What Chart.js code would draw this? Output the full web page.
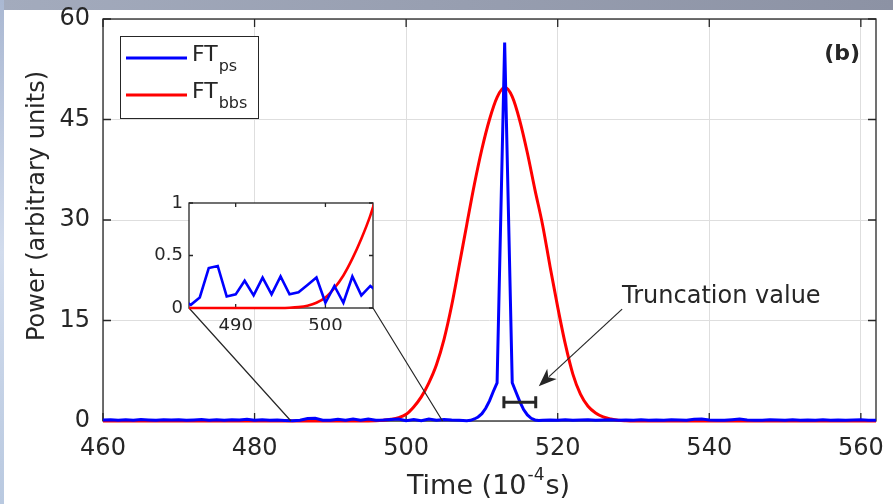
<!DOCTYPE html>
<html>
<head>
<meta charset="utf-8">
<script src="https://cdn.jsdelivr.net/npm/chart.js@4.4.1/dist/chart.umd.min.js"></script>
<style>
  html, body { margin: 0; padding: 0; background: #fff; }
  #wrap { position: relative; width: 893px; height: 504px; overflow: hidden; }
  #main { position: absolute; left: 0; top: 0; }
  #inset { position: absolute; left: 140px; top: 190px; }
</style>
</head>
<body>
<div id="wrap">
  <canvas id="main" width="893" height="504"></canvas>
  <canvas id="inset" width="240" height="140"></canvas>
</div>
<script>
// FT_ps (blue) - time in 10^-4 s, power in arbitrary units
const psTime = [460,461,462,463,464,465,466,467,468,469,470,471,472,473,474,475,476,477,478,479,
  480,481,482,483,484,485,486,487,488,489,490,491,492,493,494,495,496,497,498,499,
  500,501,502,503,504,505,506,507,508,508.5,509,509.5,510,510.5,511,511.5,512,513,
  514,514.5,515,515.5,516,516.5,517,517.5,
  518,519,520,521,522,523,524,525,526,527,528,529,530,531,532,533,534,535,536,537,
  538,539,540,541,542,543,544,545,546,547,548,549,550,551,552,553,554,555,556,557,
  558,559,560,561,562];
const psPower = [0.15,0.2,0.12,0.18,0.1,0.22,0.15,0.1,0.2,0.14,0.18,0.1,0.16,0.22,0.12,0.18,0.1,0.2,0.15,0.25,
  0.12,0.18,0.1,0.15,0.08,0.03,0.1,0.38,0.4,0.11,0.13,0.26,0.12,0.29,0.13,0.3,0.13,0.15,0.22,0.29,
  0.05,0.21,0.05,0.3,0.12,0.21,0.14,0.1,0.05,0.1,0.3,0.6,1.1,1.9,3.0,4.4,5.7,56.5,
  5.7,4.3,2.9,1.7,0.9,0.4,0.15,0.08,
  0.1,0.15,0.12,0.2,0.1,0.15,0.18,0.1,0.14,0.2,0.12,0.16,0.1,0.18,0.12,0.15,0.1,0.2,0.14,0.1,
  0.25,0.3,0.15,0.1,0.12,0.2,0.28,0.15,0.12,0.1,0.18,0.14,0.1,0.2,0.12,0.15,0.1,0.18,0.12,0.16,
  0.1,0.14,0.2,0.12,0.1];

// FT_bbs (red)
const bbsTime = [460,480,494,495,496,497,498,499,500,501,502,503,504,505,506,507,508,509,510,
  511,512,513,514,515,516,517,518,519,520,521,522,523,524,525,526,527,528,529,530,545,562];
const bbsPower = [0,0,0,0,0.02,0.1,0.25,0.5,1.0,2.1,3.6,5.7,8.4,12.2,17.2,23.2,29.3,35.3,40.6,
  45,48.3,49.8,48.4,44.8,40,34.5,29.3,23,17,11.5,7,4,2.2,1.2,0.6,0.3,0.1,0.03,0,0,0];

// FT_bbs as drawn in the zoomed inset
const bbsZoomTime = [484,486,488,490,492,494,495,496,497,498,499,500,501,502,503,504,505,506];
const bbsZoomPower = [0,0,0,0,0,0,0,0.002,0.008,0.022,0.05,0.1,0.19,0.31,0.47,0.66,0.88,1.15];

// axis ticks
const xTicks = [460,480,500,520,540,560];
const yTicks = [0,15,30,45,60];
const insetXTicks = [490,500];
const insetYTicks = [0,0.5,1];

// annotations (data coordinates)
const zoomWindow = [484.8, 504.8];
const truncBar = { from: 512.9, to: 517.1, power: 2.8 };
const arrowTail = { time: 528.5, power: 16.7 };
const arrowTip = { time: 517.5, power: 5.2 };

const INK = '#262626';
const FONT = '"DejaVu Sans", sans-serif';
Chart.defaults.font.family = FONT;
Chart.defaults.color = INK;
Chart.defaults.animation = false;

const pts = (xs, ys) => xs.map((x, i) => ({ x: x, y: ys[i] }));

// fixed axis sizes so the plot box lands where the figure has it
const fixX = h => s => { s.height = h; s.paddingLeft = 0; s.paddingRight = 0; };
const fixY = w => s => { s.width = w; s.paddingTop = 0; s.paddingBottom = 0; };

function boxAndTicks(chart, len, width) {
  const ctx = chart.ctx;
  const { left, right, top, bottom } = chart.chartArea;
  const xs = chart.scales.x, ys = chart.scales.y;
  ctx.save();
  ctx.strokeStyle = INK;
  ctx.lineWidth = width;
  ctx.beginPath();
  xs.ticks.forEach(t => {
    const px = xs.getPixelForValue(t.value);
    ctx.moveTo(px, bottom); ctx.lineTo(px, bottom - len);
    ctx.moveTo(px, top); ctx.lineTo(px, top + len);
  });
  ys.ticks.forEach(t => {
    const py = ys.getPixelForValue(t.value);
    ctx.moveTo(left, py); ctx.lineTo(left + len, py);
    ctx.moveTo(right, py); ctx.lineTo(right - len, py);
  });
  ctx.stroke();
  ctx.strokeRect(left, top, right - left, bottom - top);
  ctx.restore();
}

// ---- inset chart ----
const insetChart = new Chart(document.getElementById('inset'), {
  type: 'line',
  data: {
    datasets: [
      { data: pts(psTime, psPower), borderColor: '#0000ff', borderWidth: 2.6, pointRadius: 0, clip: { left: 0, top: 0, right: 0, bottom: 4 } },
      { data: pts(bbsZoomTime, bbsZoomPower), borderColor: '#ff0000', borderWidth: 2.6, pointRadius: 0, cubicInterpolationMode: 'monotone', clip: { left: 0, top: 0, right: 0, bottom: 4 } }
    ]
  },
  options: {
    responsive: false,
    devicePixelRatio: 1,
    layout: { padding: { top: 13, right: 7, left: 0, bottom: 0 } },
    plugins: { legend: { display: false }, tooltip: { enabled: false } },
    scales: {
      x: {
        type: 'linear', min: 484.8, max: 505.3,
        afterFit: fixX(22),
        afterBuildTicks: s => { s.ticks = insetXTicks.map(v => ({ value: v })); },
        grid: { display: false, drawTicks: false },
        border: { display: false },
        ticks: { font: { size: 18 }, padding: 8, maxRotation: 0 }
      },
      y: {
        min: 0, max: 1,
        afterFit: fixY(49),
        afterBuildTicks: s => { s.ticks = insetYTicks.map(v => ({ value: v })); },
        grid: { display: false, drawTicks: false },
        border: { display: false },
        ticks: { font: { size: 18 }, padding: 6, callback: v => String(v) }
      }
    }
  },
  plugins: [{
    id: 'insetFrame',
    beforeDraw(chart) {
      const { left, right, top, bottom } = chart.chartArea;
      chart.ctx.fillStyle = '#ffffff';
      chart.ctx.fillRect(left, top, right - left, bottom - top);
    },
    beforeDatasetsDraw(chart) { boxAndTicks(chart, 4, 1.3); }
  }]
});

// ---- main chart ----
const mainCanvas = document.getElementById('main');
new Chart(mainCanvas, {
  type: 'line',
  data: {
    datasets: [
      { label: 'FT_ps', data: pts(psTime, psPower), borderColor: '#0000ff', borderWidth: 3, pointRadius: 0, clip: { left: 0, top: 4, right: 0, bottom: 4 } },
      { label: 'FT_bbs', data: pts(bbsTime, bbsPower), borderColor: '#ff0000', borderWidth: 3, pointRadius: 0, cubicInterpolationMode: 'monotone', clip: { left: 0, top: 4, right: 0, bottom: 4 } }
    ]
  },
  options: {
    responsive: false,
    devicePixelRatio: 1,
    layout: { padding: { top: 19, right: 17, left: 0, bottom: 0 } },
    plugins: { legend: { display: false }, tooltip: { enabled: false } },
    scales: {
      x: {
        type: 'linear', min: 460, max: 562,
        afterFit: fixX(83),
        afterBuildTicks: s => { s.ticks = xTicks.map(v => ({ value: v })); },
        grid: { color: '#dedede', lineWidth: 1, drawTicks: false },
        border: { display: false },
        ticks: { font: { size: 24 }, padding: 13, maxRotation: 0 }
      },
      y: {
        min: 0, max: 60,
        afterFit: fixY(103),
        afterBuildTicks: s => { s.ticks = yTicks.map(v => ({ value: v })); },
        grid: { color: '#dedede', lineWidth: 1, drawTicks: false },
        border: { display: false },
        ticks: { font: { size: 24 }, padding: 13 }
      }
    }
  },
  plugins: [{
    id: 'figure',
    beforeDraw(chart) {
      const ctx = chart.ctx;
      ctx.save();
      ctx.fillStyle = '#ffffff';
      ctx.fillRect(0, 0, chart.width, chart.height);
      // slide background peeking in at the top and left
      const g = ctx.createLinearGradient(0, 0, chart.width, 0);
      g.addColorStop(0, '#a3abbd');
      g.addColorStop(1, '#8c92a4');
      ctx.fillStyle = g;
      ctx.fillRect(0, 0, chart.width, 10);
      const g2 = ctx.createLinearGradient(0, 0, 0, chart.height);
      g2.addColorStop(0, '#aab8d2');
      g2.addColorStop(0.5, '#d2dced');
      g2.addColorStop(1, '#b9c9e0');
      ctx.fillStyle = g2;
      ctx.fillRect(0, 0, 4, chart.height);
      ctx.restore();
    },
    beforeDatasetsDraw(chart) { boxAndTicks(chart, 8, 1.3); },
    afterDraw(chart) {
      const ctx = chart.ctx;
      const xs = chart.scales.x, ys = chart.scales.y;
      const { left, right, top, bottom } = chart.chartArea;
      ctx.save();
      ctx.fillStyle = INK;
      ctx.strokeStyle = INK;

      // zoom connector lines from inset corners to the axis
      const ia = insetChart.chartArea;
      const ox = insetChart.canvas.offsetLeft, oy = insetChart.canvas.offsetTop;
      ctx.lineWidth = 1.2;
      ctx.beginPath();
      ctx.moveTo(ox + ia.left, oy + ia.bottom);
      ctx.lineTo(xs.getPixelForValue(zoomWindow[0]), ys.getPixelForValue(0));
      ctx.moveTo(ox + ia.right, oy + ia.bottom);
      ctx.lineTo(xs.getPixelForValue(zoomWindow[1]), ys.getPixelForValue(0));
      ctx.stroke();

      // truncation bar
      const bx0 = xs.getPixelForValue(truncBar.from), bx1 = xs.getPixelForValue(truncBar.to);
      const by = ys.getPixelForValue(truncBar.power);
      ctx.lineWidth = 3;
      ctx.beginPath();
      ctx.moveTo(bx0, by); ctx.lineTo(bx1, by);
      ctx.moveTo(bx0, by - 6); ctx.lineTo(bx0, by + 6);
      ctx.moveTo(bx1, by - 6); ctx.lineTo(bx1, by + 6);
      ctx.stroke();

      // arrow
      const tx = xs.getPixelForValue(arrowTail.time), ty = ys.getPixelForValue(arrowTail.power);
      const hx = xs.getPixelForValue(arrowTip.time), hy = ys.getPixelForValue(arrowTip.power);
      const ang = Math.atan2(hy - ty, hx - tx);
      const L = 18, W = 7;
      ctx.lineWidth = 1.2;
      ctx.beginPath();
      ctx.moveTo(tx, ty);
      ctx.lineTo(hx - Math.cos(ang) * (L - 4), hy - Math.sin(ang) * (L - 4));
      ctx.stroke();
      ctx.beginPath();
      ctx.moveTo(hx, hy);
      ctx.lineTo(hx - Math.cos(ang) * L - Math.sin(ang) * W, hy - Math.sin(ang) * L + Math.cos(ang) * W);
      ctx.lineTo(hx - Math.cos(ang) * (L - 5), hy - Math.sin(ang) * (L - 5));
      ctx.lineTo(hx - Math.cos(ang) * L + Math.sin(ang) * W, hy - Math.sin(ang) * L - Math.cos(ang) * W);
      ctx.closePath();
      ctx.fill();

      ctx.font = '24px ' + FONT;
      ctx.textAlign = 'left';
      ctx.textBaseline = 'alphabetic';
      ctx.fillText('Truncation value', tx, ty - 6);

      // panel tag
      ctx.font = 'bold 22px ' + FONT;
      ctx.textAlign = 'right';
      ctx.fillText('(b)', right - 16, top + 41);

      // legend
      const lx = left + 17, ly = top + 17, lw = 138, lh = 82;
      ctx.fillStyle = '#ffffff';
      ctx.fillRect(lx, ly, lw, lh);
      ctx.lineWidth = 1;
      ctx.strokeRect(lx + 0.5, ly + 0.5, lw, lh);
      const rows = [
        { color: '#0000ff', main: 'FT', sub: 'ps', y: ly + 22 },
        { color: '#ff0000', main: 'FT', sub: 'bbs', y: ly + 59 }
      ];
      rows.forEach(r => {
        ctx.strokeStyle = r.color;
        ctx.lineWidth = 3;
        ctx.beginPath();
        ctx.moveTo(lx + 6, r.y); ctx.lineTo(lx + 67, r.y);
        ctx.stroke();
        ctx.fillStyle = INK;
        ctx.textAlign = 'left';
        ctx.font = '22px ' + FONT;
        ctx.fillText(r.main, lx + 72, r.y + 3);
        const w = ctx.measureText(r.main).width;
        ctx.font = '16px ' + FONT;
        ctx.fillText(r.sub, lx + 72 + w + 1, r.y + 13);
      });

      // axis titles
      ctx.fillStyle = INK;
      ctx.font = '24px ' + FONT;
      ctx.save();
      ctx.translate(44, (top + bottom) / 2 - 14);
      ctx.rotate(-Math.PI / 2);
      ctx.textAlign = 'center';
      ctx.fillText('Power (arbitrary units)', 0, 0);
      ctx.restore();

      const a = 'Time (10', sup = '-4', b = 's)';
      ctx.font = '27px ' + FONT;
      const wa = ctx.measureText(a).width, wb = ctx.measureText(b).width;
      ctx.font = '17px ' + FONT;
      const ws = ctx.measureText(sup).width;
      let x0 = (left + right) / 2 - (wa + ws + wb) / 2 - 2;
      const base = 494;
      ctx.textAlign = 'left';
      ctx.font = '27px ' + FONT;
      ctx.fillText(a, x0, base);
      ctx.font = '17px ' + FONT;
      ctx.fillText(sup, x0 + wa + 1, base - 14);
      ctx.font = '27px ' + FONT;
      ctx.fillText(b, x0 + wa + ws + 2, base);
      ctx.restore();
    }
  }]
});
</script>
</body>
</html>
